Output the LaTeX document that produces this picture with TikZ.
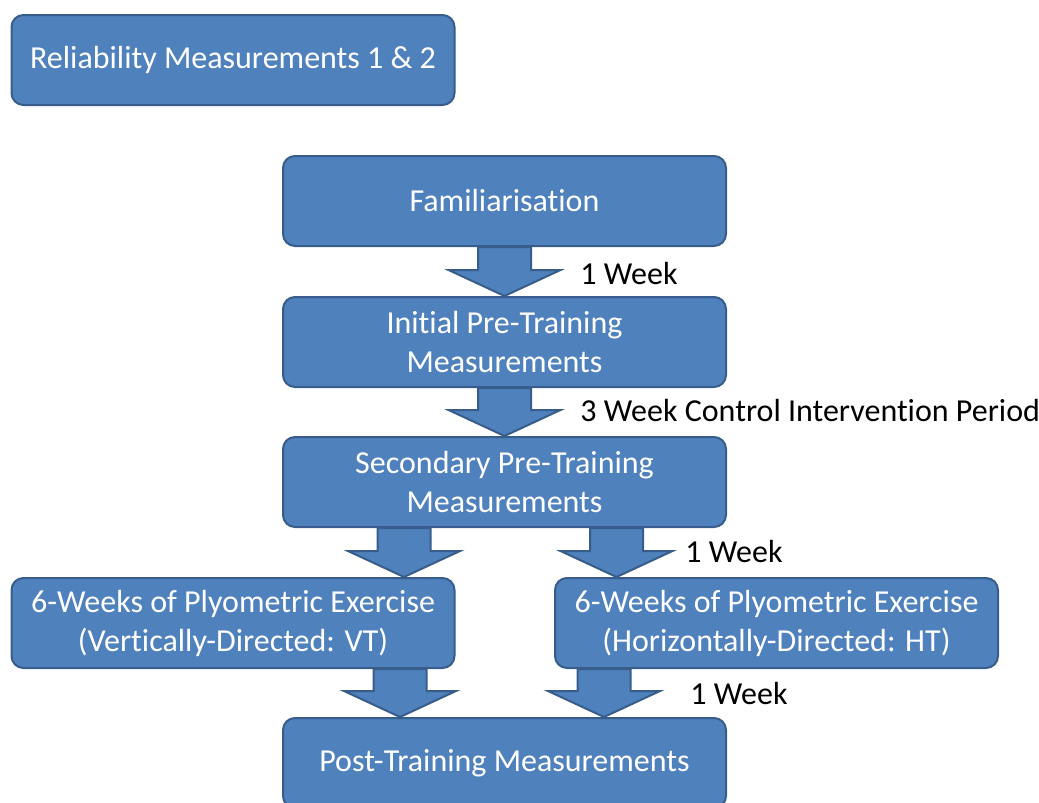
\documentclass[tikz,border=0pt]{standalone}
\usepackage{fontspec}
\setmainfont{Carlito}[Ligatures=NoCommon]
\usetikzlibrary{calc}
\definecolor{boxblue}{HTML}{4F81BD}
\definecolor{boxline}{HTML}{385D8A}
\tikzset{
  stage/.style={draw=boxline, line width=1pt, fill=boxblue, rounded corners=6pt,
    text=white, minimum width=221.5pt, minimum height=45pt, align=center,
    inner sep=2pt, font=\fontsize{16}{19.5}\selectfont},
  blockarrow/.style={draw=boxline, line width=1pt, fill=boxblue, line join=miter},
  weeklabel/.style={anchor=west, inner sep=0pt, font=\fontsize{16}{19.5}\selectfont}
}
\newcommand{\blockarr}[3]{%
  \draw[blockarrow] let \p1=(#3,0 |- #1.south), \p2=(#3,0 |- #2.north) in
    (\x1-13.25pt,\y1) -- (\x1+13.25pt,\y1) -- (\x1+13.25pt,\y2+13pt)
    -- (\x1+28pt,\y2+13pt) -- (\x1,\y2) -- (\x1-28pt,\y2+13pt)
    -- (\x1-13.25pt,\y2+13pt) -- cycle;}
\begin{document}
\begin{tikzpicture}[x=0.5pt, y=-0.5pt]
      \useasboundingbox (0,0) rectangle (1039,803);
      \node[stage] (rel) at (233,60) {Reliability Measurements 1 \& 2};
      \node[stage] (fam) at (504.5,201) {Familiarisation};
      \node[stage] (init) at (504.5,342) {Initial Pre-Training\\Measurements};
      \node[stage] (sec) at (504.5,482) {Secondary Pre-Training\\Measurements};
      \node[stage] (vt) at (233,623) {6-Weeks of Plyometric Exercise\\(Vertically-Directed: VT)};
      \node[stage] (ht) at (776.5,623) {6-Weeks of Plyometric Exercise\\(Horizontally-Directed: HT)};
      \node[stage] (post) at (504.5,763) {Post-Training Measurements};
      \blockarr{fam}{init}{504.5}
      \blockarr{init}{sec}{504.5}
      \blockarr{sec}{vt}{404}
      \blockarr{sec}{ht}{616.5}
      \blockarr{vt}{post}{400}
      \blockarr{ht}{post}{604}
      \node[weeklabel] (w1) at (580,273) {1 Week};
      \node[weeklabel] (w3) at (580,411) {3 Week Control Intervention Period};
      \node[weeklabel] (w1b) at (685,551) {1 Week};
      \node[weeklabel] (w1c) at (690,693) {1 Week};
    \end{tikzpicture}
\end{document}
